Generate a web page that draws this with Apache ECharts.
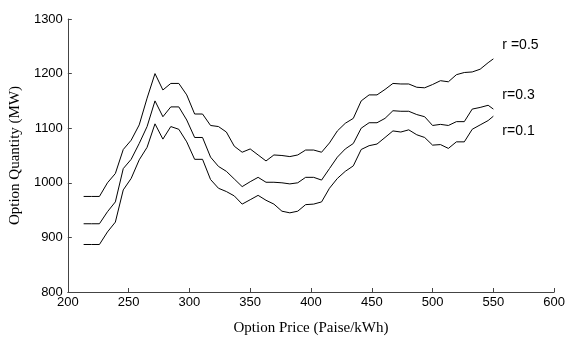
<!DOCTYPE html>
<html>
<head>
<meta charset="utf-8">
<script src="https://cdn.jsdelivr.net/npm/echarts@6/dist/echarts.min.js"></script>
<style>
html,body{margin:0;padding:0;background:#fff;}
#c{width:568px;height:341px;}
</style>
</head>
<body>
<div id="c"></div>
<script>
const optionPrice = [213,219.5,226,232.6,239.1,245.6,252.1,258.7,265.2,271.7,278.2,284.7,291.3,297.8,304.3,310.8,317.4,323.9,330.4,336.9,343.4,350,356.5,363,369.5,376.1,382.6,389.1,395.6,402.2,408.7,415.2,421.7,428.2,434.8,441.3,447.8,454.3,460.9,467.4,473.9,480.4,487,493.5,500,506.5,513,519.6,526.1,532.6,539.1,545.7,550];
const qtyR05 = [975,975,975,1000,1017,1061,1078,1106,1155,1200,1170,1182,1182,1161,1126,1126,1105,1103,1093,1067,1056,1062,1051,1040,1051,1050,1048,1051,1060,1060,1056,1073,1095,1109,1118,1150,1161,1161,1171,1182,1181,1181,1175,1174,1180,1187,1185,1198,1202,1203,1208,1220,1227];
const qtyR03 = [925,925,925,947,965,1026,1043,1072,1103,1150,1121,1139,1139,1115,1083,1083,1047,1030,1021,1007,993,1002,1010,1001,1001,1000,998,1000,1010,1010,1005,1026,1047,1062,1072,1100,1110,1110,1118,1132,1131,1131,1125,1121,1105,1107,1105,1112,1112,1135,1138,1142,1135];
const qtyR01 = [887,887,887,910,928,987,1008,1042,1065,1108,1080,1103,1098,1075,1043,1043,1006,990,984,976,961,969,977,968,961,948,945,948,960,961,965,990,1008,1021,1031,1061,1068,1071,1083,1095,1093,1097,1088,1083,1069,1070,1063,1075,1075,1098,1106,1114,1122];
const seriesNames = ['r =0.5','r=0.3','r=0.1'];
const xTicks = {min:200, max:600, interval:50};
const yTicks = {min:800, max:1300, interval:100};

const labelOffsets = [[4,-14],[4,-14],[4,15]];
const allData = [qtyR05, qtyR03, qtyR01];

const chart = echarts.init(document.getElementById('c'), null, {renderer:'canvas'});
const axisCommon = {
  axisLine:{show:true, lineStyle:{color:'#444', width:1}},
  axisTick:{show:true, inside:true, length:4, lineStyle:{color:'#444'}},
  splitLine:{show:false},
  axisLabel:{color:'#000', fontFamily:'Liberation Sans, Arial, sans-serif', fontSize:13, formatter:(v)=>String(v)},
  nameTextStyle:{color:'#000', fontFamily:'Liberation Serif, Times New Roman, serif', fontSize:15}
};
chart.setOption({
  animation:false,
  backgroundColor:'#fff',
  grid:{left:62, right:13, top:19, bottom:49, containLabel:false},
  xAxis:Object.assign({}, axisCommon, {
    type:'value', min:xTicks.min, max:xTicks.max, interval:xTicks.interval,
    name:'Option Price (Paise/kWh)', nameLocation:'middle', nameGap:29,
    axisLabel:Object.assign({}, axisCommon.axisLabel, {margin:4})
  }),
  yAxis:Object.assign({}, axisCommon, {
    type:'value', min:yTicks.min, max:yTicks.max, interval:yTicks.interval,
    name:'Option Quantity (MW)', nameLocation:'middle', nameGap:42,
    axisLabel:Object.assign({}, axisCommon.axisLabel, {margin:5})
  }),
  series: allData.map((d,i)=>({
    type:'line', name:seriesNames[i],
    data:optionPrice.map((x,j)=>[x,d[j]]),
    showSymbol:false, symbol:'none',
    lineStyle:{color:'#000', width:1},
    itemStyle:{color:'#000'},
    endLabel:{show:true, formatter:seriesNames[i], offset:labelOffsets[i], distance:5,
      color:'#000', fontFamily:'Liberation Sans, Arial, sans-serif', fontSize:14}
  }))
});
</script>
</body>
</html>
